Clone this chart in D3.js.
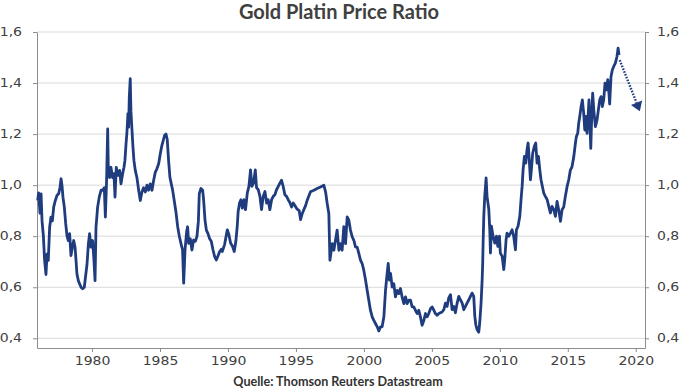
<!DOCTYPE html>
<html><head><meta charset="utf-8">
<script src="https://cdn.jsdelivr.net/npm/d3@7"></script>
<style>body{margin:0;background:#fff} svg{display:block}</style>
</head><body>
<svg id="c" width="684" height="388"></svg>
<script>
// ---- data ----
const dates = [
1976.00,1976.07,1976.17,1976.25,1976.32,1976.42,1976.51,1976.61,1976.69,1976.78,1976.88,1976.98,1977.08,1977.18,1977.30,1977.42,1977.54,1977.64,1977.72,1977.79,1977.86,1977.96,1978.06,1978.16,1978.25,1978.35,1978.45,1978.55,1978.65,1978.75,1978.82,1978.89,1978.99,1979.09,1979.19,1979.31,1979.43,1979.53,1979.63,1979.73,1979.82,1979.92,1980.04,1980.14,1980.22,1980.29,1980.41,1980.53,1980.66,1980.78,1980.90,1980.98,1981.07,1981.15,1981.20,1981.29,1981.39,1981.51,1981.61,1981.69,1981.78,1981.91,1982.03,1982.13,1982.25,1982.35,1982.42,1982.50,1982.57,1982.64,1982.69,1982.74,1982.81,1982.86,1982.94,1983.01,1983.08,1983.18,1983.30,1983.43,1983.55,1983.67,1983.79,1983.92,1984.04,1984.16,1984.28,1984.41,1984.53,1984.65,1984.77,1984.90,1985.02,1985.14,1985.24,1985.34,1985.44,1985.53,1985.63,1985.73,1985.83,1985.93,
1986.17,1986.30,1986.42,1986.54,1986.66,1986.74,1986.84,1986.96,1987.03,1987.11,1987.23,1987.35,1987.47,1987.60,1987.72,1987.82,1987.89,1988.01,1988.14,1988.21,1988.31,1988.41,1988.53,1988.65,1988.77,1988.90,1989.02,1989.14,1989.26,1989.39,1989.51,
1989.58,1989.75,1989.95,1990.07,1990.19,1990.34,1990.46,1990.58,1990.68,1990.75,1990.85,1990.95,1991.05,1991.17,1991.29,1991.42,1991.54,1991.66,1991.76,1991.88,1992.01,1992.10,1992.23,1992.35,1992.47,1992.59,1992.72,1992.84,1992.96,1993.08,1993.21,1993.33,1993.45,1993.57,1993.70,1993.82,1993.94,1994.06,1994.19,1994.31,1994.43,1994.55,1994.68,1994.80,1994.92,1995.09,1995.24,1995.34,1995.46,1995.58,1995.71,
1995.83,1996.07,1996.32,1996.56,1996.81,1997.05,1997.18,1997.30,1997.42,1997.50,1997.67,1997.79,1997.91,1998.03,1998.16,1998.28,1998.40,1998.52,1998.65,1998.77,1998.89,1999.01,1999.14,1999.26,1999.38,1999.51,1999.63,1999.75,1999.87,1999.99,2000.12,2000.24,2000.36,2000.48,2000.61,2000.73,2000.85,2000.98,2001.10,2001.22,2001.34,2001.47,2001.59,2001.71,2001.79,2001.88,2001.96,2002.08,2002.20,2002.32,2002.45,2002.57,2002.69,2002.81,2002.94,2003.06,2003.18,2003.30,2003.43,2003.55,2003.67,2003.79,2003.92,2004.04,2004.16,2004.28,2004.41,2004.53,2004.65,2004.77,2004.90,2005.02,2005.14,2005.26,2005.39,2005.51,2005.75,
2005.88,2006.00,2006.12,2006.24,2006.37,2006.49,2006.61,2006.73,2006.86,2006.98,2007.10,2007.23,2007.35,2007.47,2007.59,2007.72,2007.84,2007.96,2008.08,2008.16,2008.23,2008.33,2008.45,2008.52,2008.62,2008.70,2008.74,2008.77,2008.82,2008.89,2008.99,2009.06,2009.19,2009.26,2009.31,2009.38,2009.50,2009.63,2009.75,2009.85,2009.97,2010.04,2010.17,2010.29,2010.36,2010.46,2010.53,2010.66,2010.78,2010.90,2011.02,2011.15,2011.22,2011.34,2011.47,2011.56,2011.64,2011.71,2011.81,2011.91,2012.00,2012.08,2012.15,2012.25,2012.32,2012.42,2012.54,2012.64,2012.74,2012.84,2012.94,2013.03,2013.13,2013.23,2013.35,2013.48,2013.60,2013.72,2013.84,2013.97,2014.09,2014.21,2014.33,2014.46,2014.58,2014.70,2014.82,2014.95,2015.07,
2015.19,2015.31,2015.44,2015.56,2015.63,2015.73,2015.80,2015.88,2015.98,2016.07,2016.17,2016.25,2016.34,2016.42,2016.49,2016.56,2016.64,2016.69,2016.76,2016.83,2016.91,2017.03,2017.15,2017.25,2017.35,2017.45,2017.54,2017.64,2017.74,2017.84,2017.94,2018.01,2018.08,2018.18,2018.28,2018.38,2018.50,2018.62,2018.70,2018.77
];
const ratio = [
0.94,0.97,0.89,0.966,0.86,0.80,0.705,0.65,0.73,0.705,0.835,0.875,0.86,0.915,0.94,0.96,0.966,0.99,1.025,0.998,0.953,0.914,0.85,0.80,0.783,0.81,0.724,0.757,0.783,0.757,0.705,0.652,0.626,0.613,0.60,0.594,0.60,0.646,0.69,0.77,0.81,0.757,0.783,0.705,0.626,0.835,0.914,0.953,0.98,0.98,0.99,0.875,1.018,1.22,1.045,1.03,1.07,1.03,1.045,0.953,1.07,1.038,1.058,1.005,1.045,1.07,1.097,1.162,1.21,1.28,1.227,1.345,1.417,1.29,1.214,1.15,1.097,1.058,1.03,0.98,0.94,0.973,0.99,0.973,1.0,0.98,1.005,0.98,1.018,1.05,1.064,1.084,1.123,1.156,1.175,1.195,1.20,1.18,1.097,1.03,1.005,0.98,
0.896,0.837,0.80,0.772,0.746,0.616,0.746,0.818,0.837,0.772,0.79,0.746,0.785,0.78,0.80,0.857,0.967,0.987,0.98,0.94,0.863,0.824,0.81,0.79,0.78,0.746,0.72,0.707,0.722,0.74,0.749,
0.74,0.767,0.825,0.806,0.773,0.76,0.74,0.78,0.838,0.897,0.93,0.943,0.91,0.943,0.904,0.969,0.995,1.06,0.995,1.008,1.06,0.99,0.982,0.956,0.904,0.956,0.975,0.93,0.943,0.904,0.943,0.956,0.962,0.982,0.995,1.008,1.019,0.995,0.962,0.956,0.943,0.932,0.914,0.93,0.92,0.906,0.90,0.865,0.888,0.904,0.92,
0.941,0.974,0.98,0.987,0.993,1.0,0.974,0.928,0.889,0.706,0.771,0.745,0.784,0.824,0.745,0.771,0.745,0.837,0.771,0.876,0.863,0.824,0.797,0.784,0.758,0.756,0.732,0.706,0.693,0.667,0.628,0.588,0.549,0.51,0.484,0.47,0.458,0.445,0.429,0.445,0.445,0.484,0.588,0.654,0.693,0.628,0.654,0.601,0.614,0.562,0.588,0.575,0.595,0.562,0.536,0.562,0.536,0.549,0.549,0.523,0.523,0.51,0.497,0.51,0.484,0.451,0.47,0.497,0.484,0.497,0.516,0.523,0.51,0.497,0.49,0.497,0.503,
0.512,0.538,0.525,0.558,0.571,0.512,0.525,0.50,0.538,0.564,0.551,0.538,0.512,0.525,0.538,0.551,0.564,0.577,0.564,0.486,0.454,0.434,0.424,0.46,0.538,0.63,0.695,0.773,0.878,0.956,1.028,0.956,0.904,0.825,0.734,0.839,0.80,0.773,0.80,0.76,0.80,0.734,0.721,0.669,0.708,0.786,0.812,0.80,0.812,0.825,0.80,0.747,0.825,0.839,0.878,0.943,0.995,1.06,1.113,1.086,1.139,1.165,1.113,1.021,1.06,1.126,1.152,1.165,1.086,1.113,1.06,1.021,0.995,0.969,0.956,0.943,0.917,0.891,0.917,0.904,0.878,0.936,0.904,0.858,0.904,0.914,0.956,0.995,1.021,
1.059,1.072,1.111,1.164,1.19,1.203,1.242,1.269,1.308,1.334,1.282,1.216,1.269,1.203,1.269,1.334,1.229,1.144,1.269,1.36,1.295,1.229,1.255,1.295,1.334,1.347,1.308,1.334,1.40,1.373,1.413,1.373,1.318,1.426,1.452,1.465,1.478,1.504,1.537,1.51
];
const yTicks = [0.4, 0.6, 0.8, 1.0, 1.2, 1.4, 1.6];
const xTicks = [1980, 1985, 1990, 1995, 2000, 2005, 2010, 2015, 2020];
const arrowFrom = [2018.82, 1.49];
const arrowTo = [2020.30, 1.29];
const titleText = "Gold Platin Price Ratio";
const sourceText = "Quelle: Thomson Reuters Datastream";

// ---- drawing ----
const svg = d3.select("#c");
const L = 37, R = 645, T = 32, B = 348;
const x = d3.scaleLinear().domain([1975.95, 2020.68]).range([L, R]);
const y = d3.scaleLinear().domain([0.362, 1.6]).range([B, T]);
const txt = "#404040", axisCol = "#8c8c8c", gridCol = "#d9d9d9", lineCol = "#1f3c7e";
const fmt = d => d3.format(".1f")(d).replace(".", ",");
const SX = 1.22;

svg.append("g").selectAll("line").data(yTicks).join("line")
  .attr("x1", L).attr("x2", R).attr("y1", d => y(d)).attr("y2", d => y(d))
  .attr("stroke", gridCol).attr("stroke-width", 1);

function styleAxis(g) {
  g.selectAll(".domain").attr("stroke", axisCol);
  g.selectAll(".tick line").attr("stroke", axisCol);
  g.selectAll(".tick text").attr("fill", txt)
    .style("font-family", "DejaVu Sans").style("font-size", "11.5px");
}

const gx = svg.append("g").attr("transform", `translate(0,${B})`)
  .call(d3.axisBottom(x).tickValues(xTicks).tickSize(4).tickSizeOuter(0).tickFormat(d3.format("d")));
styleAxis(gx);
gx.selectAll(".tick text").attr("y", 17).attr("dy", 0).attr("transform", `scale(${SX},1)`);

const gl = svg.append("g").attr("transform", `translate(${L},0)`)
  .call(d3.axisLeft(y).tickValues(yTicks).tickSize(4).tickSizeOuter(0).tickFormat(fmt));
styleAxis(gl);
gl.selectAll(".tick text").attr("x", -15 / SX).attr("transform", `scale(${SX},1)`);

const gr = svg.append("g").attr("transform", `translate(${R},0)`)
  .call(d3.axisRight(y).tickValues(yTicks).tickSize(4).tickSizeOuter(0).tickFormat(fmt));
styleAxis(gr);
gr.selectAll(".tick text").attr("x", 12 / SX).attr("transform", `scale(${SX},1)`);

const pts = dates.map((d, i) => [d, ratio[i]]);
svg.append("path").datum(pts)
  .attr("fill", "none").attr("stroke", lineCol).attr("stroke-width", 2.8)
  .attr("stroke-linejoin", "round")
  .attr("d", d3.line().x(d => x(d[0])).y(d => y(d[1])));

// arrow
const ax0 = x(arrowFrom[0]), ay0 = y(arrowFrom[1]), ax1 = x(arrowTo[0]), ay1 = y(arrowTo[1]);
const ang = Math.atan2(ay1 - ay0, ax1 - ax0);
const headL = 9, headW = 6;
const bx = ax1 - headL * Math.cos(ang), by = ay1 - headL * Math.sin(ang);
svg.append("line").attr("x1", ax0).attr("y1", ay0).attr("x2", bx).attr("y2", by)
  .attr("stroke", lineCol).attr("stroke-width", 2.4).attr("stroke-dasharray", "1.6 1.4");
svg.append("polygon").attr("fill", lineCol).attr("points", [
  [ax1, ay1],
  [bx + headW * Math.sin(ang), by - headW * Math.cos(ang)],
  [bx - headW * Math.sin(ang), by + headW * Math.cos(ang)]
].map(p => p.join(",")).join(" "));

svg.append("text").attr("x", 339).attr("y", 19).attr("text-anchor", "middle")
  .style("font-family", "Lato").style("font-weight", "700").style("font-size", "20px")
  .attr("fill", txt).text(titleText);
svg.append("text").attr("x", 338).attr("y", 386).attr("text-anchor", "middle")
  .style("font-family", "Lato").style("font-weight", "700").style("font-size", "12.6px")
  .attr("fill", "#333").text(sourceText);
</script>
</body></html>
